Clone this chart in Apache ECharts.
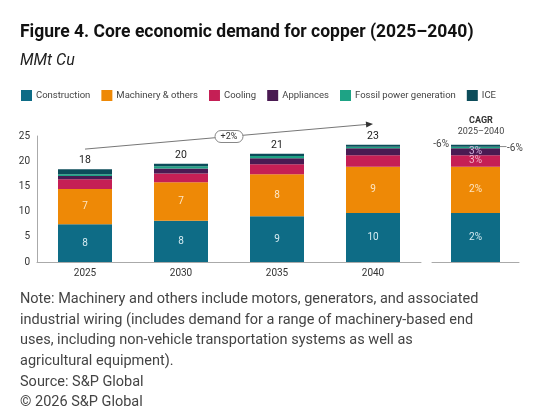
<!DOCTYPE html>
<html>
<head>
<meta charset="utf-8">
<script src="https://cdn.jsdelivr.net/npm/echarts@6/dist/echarts.min.js"></script>
<style>
  html, body { margin: 0; padding: 0; background: #fff; }
  #main { width: 551px; height: 418px; }
</style>
</head>
<body>
<div id="main"></div>
<script>
// data (MMt Cu)
var years = ['2025', '2030', '2035', '2040'];
var construction = [7.5, 8.2, 9.1, 9.7];
var machinery = [7.0, 7.6, 8.3, 9.2];
var cooling = [1.9, 1.75, 2.0, 2.3];
var appliances = [0.65, 1.0, 1.2, 1.35];
var fossil = [0.35, 0.45, 0.45, 0.3];
var ice = [1.0, 0.5, 0.45, 0.4];
var totalLabels = ['18', '20', '21', '23'];
var constructionLabels = ['8', '8', '9', '10'];
var machineryLabels = ['7', '7', '8', '9'];
var cagrLabels = ['2%', '2%', '3%', '3%', '-6%', '-6%'];
var growthLabel = '+2%';
var yTicks = [0, 25, 5];

var names = ['Construction', 'Machinery & others', 'Cooling', 'Appliances', 'Fossil power generation', 'ICE'];
var colors = ['#0e6c86', '#ee8906', '#c51f55', '#4a1a52', '#1ea385', '#0c4c5a'];
var values = [construction, machinery, cooling, appliances, fossil, ice];

var dom = document.getElementById('main');
var myChart = echarts.init(dom);
var font = 'Roboto';

var series = [];
// main stacked bars
names.forEach(function (n, i) {
    var s = {
        name: n,
        type: 'bar',
        stack: 'demand',
        xAxisIndex: 0,
        yAxisIndex: 0,
        barWidth: 54,
        itemStyle: { color: colors[i] },
        data: values[i]
    };
    if (i === 0) {
        s.label = { show: true, position: 'inside', color: '#d6ebf1', fontSize: 10, fontFamily: font,
            formatter: function (p) { return constructionLabels[p.dataIndex]; } };
    } else if (i === 1) {
        s.label = { show: true, position: 'inside', color: '#fde6c4', fontSize: 10, fontFamily: font,
            formatter: function (p) { return machineryLabels[p.dataIndex]; } };
    } else if (i === 5) {
        s.label = { show: true, position: 'top', distance: 3, color: '#222', fontSize: 10.5, fontFamily: font,
            formatter: function (p) { return totalLabels[p.dataIndex]; } };
    }
    series.push(s);
});
// CAGR panel (2040 composition)
names.forEach(function (n, i) {
    var lab = { show: true, position: 'inside', fontSize: 10, fontFamily: font,
        formatter: cagrLabels[i] };
    if (i === 0) lab.color = '#d6ebf1';
    if (i === 1) lab.color = '#fde6c4';
    if (i === 2) lab.color = '#f3b6cc';
    if (i === 3) lab.color = '#d4b4e0';
    if (i === 4) { lab.position = 'right'; lab.distance = 7; lab.color = '#444'; lab.offset = [0, 1]; }
    if (i === 5) { lab.position = 'left'; lab.distance = 2; lab.color = '#444'; lab.offset = [0, -1]; }
    series.push({
        name: n,
        type: 'bar',
        stack: 'cagr',
        xAxisIndex: 1,
        yAxisIndex: 1,
        barWidth: 49,
        itemStyle: { color: colors[i] },
        label: lab,
        data: [values[i][3]]
    });
});

option = {
    backgroundColor: '#fff',
    animation: false,
    textStyle: { fontFamily: font },
    title: [{
        text: 'Figure 4. Core economic demand for copper (2025–2040)',
        left: 15, top: 19,
        textStyle: { fontSize: 17.5, fontWeight: 'bold', color: '#111', fontFamily: font }
    }, {
        text: 'MMt Cu',
        left: 15, top: 48,
        textStyle: { fontSize: 16, fontStyle: 'italic', fontWeight: 'normal', color: '#222', fontFamily: font }
    }, {
        text: 'CAGR',
        left: 476, top: 111, textAlign: 'center',
        textStyle: { fontSize: 9, fontWeight: 'bold', color: '#333', fontFamily: font }
    }, {
        text: '2025–2040',
        left: 476, top: 122, textAlign: 'center',
        textStyle: { fontSize: 9, fontWeight: 'normal', color: '#444', fontFamily: font }
    }, {
        text: 'Note: Machinery and others include motors, generators, and associated\n' +
              'industrial wiring (includes demand for a range of machinery-based end\n' +
              'uses, including non-vehicle transportation systems as well as\n' +
              'agricultural equipment).\nSource: S&P Global\n© 2026 S&P Global',
        left: 15, top: 284,
        textStyle: { fontSize: 14.5, fontWeight: 'normal', color: '#444', lineHeight: 20.7, fontFamily: font }
    }],
    legend: {
        data: names,
        left: 16, top: 85,
        itemWidth: 11, itemHeight: 11, itemGap: 11,
        icon: 'rect',
        textStyle: { fontSize: 9.5, color: '#444', fontFamily: font, padding: [0, 0, 0, -1] }
    },
    grid: [
        { left: 37, right: 130, top: 136, bottom: 156 },
        { left: 432, right: 32, top: 136, bottom: 156 }
    ],
    xAxis: [{
        type: 'category', gridIndex: 0, data: years,
        axisTick: { show: false },
        axisLine: { lineStyle: { color: '#aaa' } },
        axisLabel: { color: '#333', fontSize: 10, margin: 6 }
    }, {
        type: 'category', gridIndex: 1, data: ['CAGR'],
        axisTick: { show: false },
        axisLine: { lineStyle: { color: '#aaa' } },
        axisLabel: { show: false }
    }],
    yAxis: [{
        type: 'value', gridIndex: 0, min: yTicks[0], max: yTicks[1], interval: yTicks[2],
        axisLine: { show: true, lineStyle: { color: '#aaa' } },
        axisTick: { show: false },
        splitLine: { show: false },
        axisLabel: { color: '#333', fontSize: 10, margin: 7 }
    }, {
        type: 'value', gridIndex: 1, min: yTicks[0], max: yTicks[1], show: false,
        splitLine: { show: false }
    }],
    series: series
};

if (option && typeof option === "object") {
    myChart.setOption(option, true);
}

// growth arrow over the bars, placed through the axes
var p1 = myChart.convertToPixel({ xAxisIndex: 0, yAxisIndex: 0 }, [0, 22.4]);
var p2 = myChart.convertToPixel({ xAxisIndex: 0, yAxisIndex: 0 }, [3, 27.4]);
var ang = Math.atan2(p2[1] - p1[1], p2[0] - p1[0]);
var ah = 7, aw = 3;
var tip = [p2[0], p2[1]];
var b1 = [tip[0] - ah * Math.cos(ang) + aw * Math.sin(ang), tip[1] - ah * Math.sin(ang) - aw * Math.cos(ang)];
var b2 = [tip[0] - ah * Math.cos(ang) - aw * Math.sin(ang), tip[1] - ah * Math.sin(ang) + aw * Math.cos(ang)];
var mid = [(p1[0] + p2[0]) / 2, (p1[1] + p2[1]) / 2];
// leader for the right-hand CAGR label
var rb = myChart.convertToPixel({ xAxisIndex: 1, yAxisIndex: 1 }, [0, 22.9]);

myChart.setOption({
    graphic: [
        { type: 'line', shape: { x1: p1[0], y1: p1[1], x2: b1[0] / 2 + b2[0] / 2, y2: b1[1] / 2 + b2[1] / 2 },
          style: { stroke: '#777', lineWidth: 1 } },
        { type: 'polygon', shape: { points: [tip, b1, b2] }, style: { fill: '#333' } },
        { type: 'rect', shape: { x: mid[0] - 14, y: mid[1] - 6, width: 28, height: 12, r: 6 },
          style: { fill: '#fff', stroke: '#888', lineWidth: 1 } },
        { type: 'text', x: mid[0], y: mid[1],
          style: { text: growthLabel, fontSize: 9, fontFamily: font, fill: '#333', align: 'center', verticalAlign: 'middle' } },
        { type: 'line', shape: { x1: rb[0] + 24.5, y1: rb[1], x2: rb[0] + 31, y2: rb[1] },
          style: { stroke: '#888', lineWidth: 1 } }
    ]
});
</script>
</body>
</html>
